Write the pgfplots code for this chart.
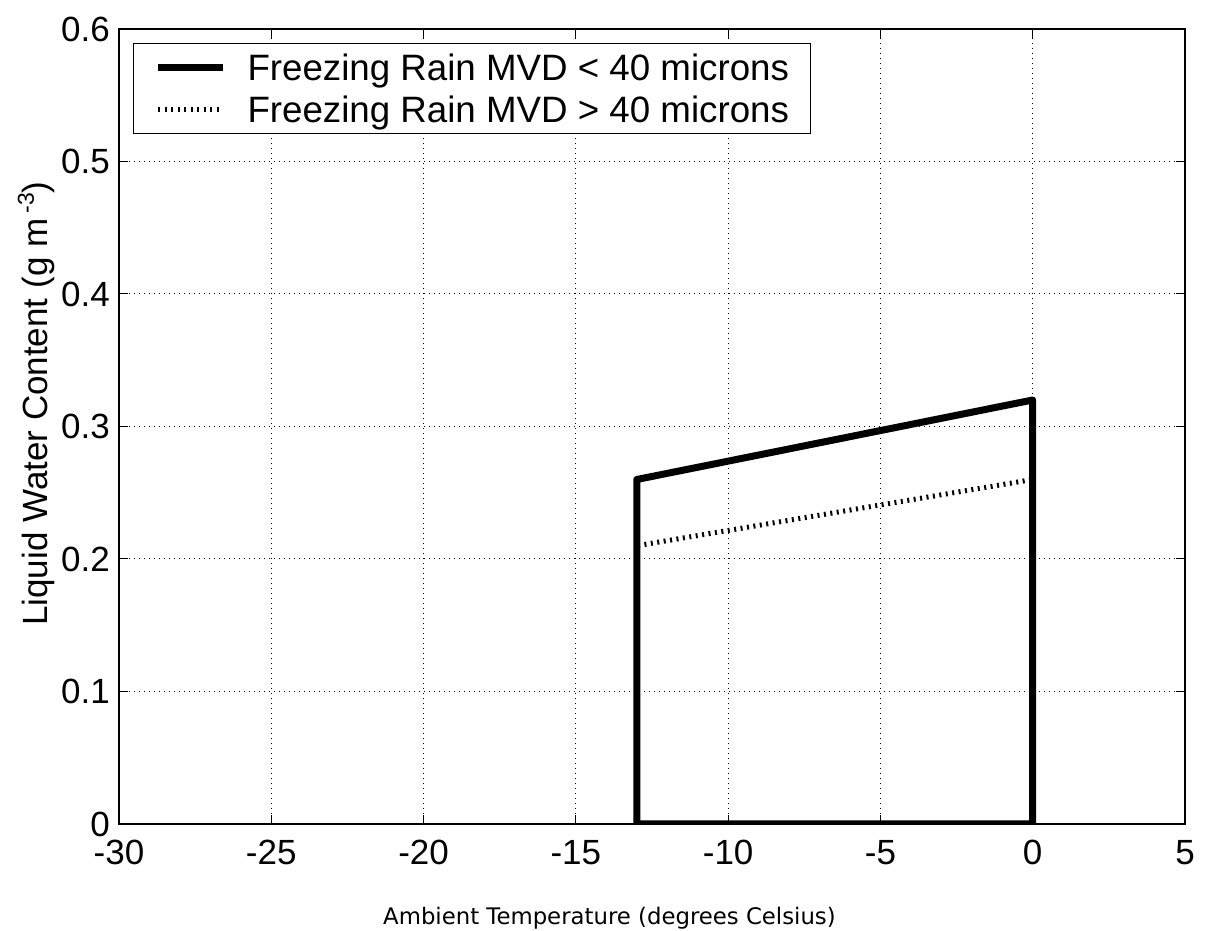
\documentclass[border=0pt]{standalone}
\usepackage{fontspec}
\setmainfont{Liberation Sans}
\newfontfamily\verd{DejaVu Sans}
\usepackage{pgfplots}
\pgfplotsset{compat=1.18}
\begin{document}
\begin{tikzpicture}[x=1pt,y=1pt]
\path[use as bounding box] (0,0) rectangle (1205,931);
\begin{axis}[
    at={(119pt,107pt)}, anchor=south west,
    scale only axis, width=1066pt, height=795pt,
    xmin=-30, xmax=5, ymin=0, ymax=0.6,
    xtick={-30,-25,-20,-15,-10,-5,0,5},
    ytick={0,0.1,0.2,0.3,0.4,0.5,0.6},
    xticklabels={-30,-25,-20,-15,-10,-5,0,5},
    yticklabels={0,0.1,0.2,0.3,0.4,0.5,0.6},
    tick label style={font=\fontsize{35}{35}\selectfont, inner sep=0pt},
    xticklabel style={anchor=north, yshift=-16pt},
    yticklabel style={anchor=east, xshift=-9pt},
    tick align=inside, xtick pos=both, ytick pos=both,
    major tick length=9pt,
    every tick/.style={black, line width=1pt},
    axis line style={line width=1.2pt},
    grid=major,
    major grid style={black, line width=1pt, dash pattern=on 1pt off 4pt},
    legend style={at={(axis description cs:0,1)}, anchor=north west,
        xshift=14pt, yshift=-14pt, font=\fontsize{36.7}{36.7}\selectfont,
        draw=black, line width=1pt, inner xsep=21pt, inner ysep=11pt,
        column sep=21pt, row sep=16pt,
        nodes={inner sep=0pt, text height=26pt, text depth=0pt}},
    legend cell align=left,
    legend image code/.code={\draw[#1] (0pt,0pt) -- (65pt,0pt);},
]
\addplot[black, line width=7pt, line join=round] coordinates {
    (-13,0) (-13,0.26) (0,0.32) (0,0) (-13,0) (-13,0.01)
};
\addplot[black, line width=5pt, dash pattern=on 2pt off 4.5pt] coordinates {
    (-13,0) (-13,0.21) (0,0.26) (0,0)
};
\legend{Freezing Rain MVD < 40 microns, Freezing Rain MVD > 40 microns}
\end{axis}
\node[rotate=90, anchor=base west, inner sep=0pt, font=\fontsize{35}{35}\selectfont]
    at (47,305) {Liquid Water Content (g m\hspace{5pt}\raisebox{13pt}{\fontsize{23}{23}\selectfont -3})};
\node[anchor=base west, inner sep=0pt, font=\verd\fontsize{22.8}{22.8}\selectfont]
    at (383,6) {Ambient Temperature (degrees Celsius)};
\end{tikzpicture}
\end{document}
